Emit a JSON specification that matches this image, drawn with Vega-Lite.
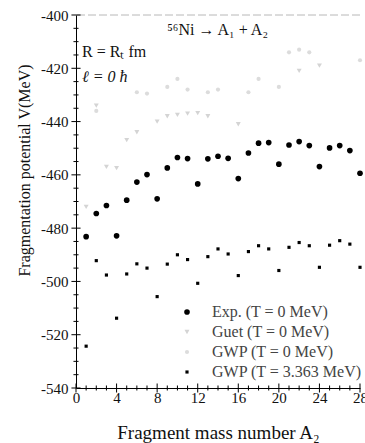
{
  "$schema": "https://vega.github.io/schema/vega-lite/v6.json",
  "width": 284,
  "height": 373,
  "autosize": {"type": "none"},
  "padding": {"left": 76, "top": 15, "right": 5, "bottom": 55},
  "background": "white",
  "config": {"view": {"stroke": null}, "font": "Liberation Serif"},
  "datasets": {
    "yMinor": [{"v": -535}, {"v": -530}, {"v": -525}, {"v": -515}, {"v": -510}, {"v": -505}, {"v": -495}, {"v": -490}, {"v": -485}, {"v": -475}, {"v": -470}, {"v": -465}, {"v": -455}, {"v": -450}, {"v": -445}, {"v": -435}, {"v": -430}, {"v": -425}, {"v": -415}, {"v": -410}, {"v": -405}],
    "yMajor": [{"v": -540}, {"v": -520}, {"v": -500}, {"v": -480}, {"v": -460}, {"v": -440}, {"v": -420}, {"v": -400}],
    "xMinor": [{"a": 1}, {"a": 2}, {"a": 3}, {"a": 5}, {"a": 6}, {"a": 7}, {"a": 9}, {"a": 10}, {"a": 11}, {"a": 13}, {"a": 14}, {"a": 15}, {"a": 17}, {"a": 18}, {"a": 19}, {"a": 21}, {"a": 22}, {"a": 23}, {"a": 25}, {"a": 26}, {"a": 27}],
    "xMajor": [{"a": 0}, {"a": 4}, {"a": 8}, {"a": 12}, {"a": 16}, {"a": 20}, {"a": 24}, {"a": 28}]
  },
  "layer": [
    {
      "data": {"values": [
        {"A": 1, "V": -483.2, "series": "Exp. (T = 0 MeV)"},
        {"A": 2, "V": -474.5, "series": "Exp. (T = 0 MeV)"},
        {"A": 3, "V": -471.5, "series": "Exp. (T = 0 MeV)"},
        {"A": 4, "V": -482.9, "series": "Exp. (T = 0 MeV)"},
        {"A": 5, "V": -469.5, "series": "Exp. (T = 0 MeV)"},
        {"A": 6, "V": -462.7, "series": "Exp. (T = 0 MeV)"},
        {"A": 7, "V": -459.9, "series": "Exp. (T = 0 MeV)"},
        {"A": 8, "V": -469.0, "series": "Exp. (T = 0 MeV)"},
        {"A": 9, "V": -457.4, "series": "Exp. (T = 0 MeV)"},
        {"A": 10, "V": -453.5, "series": "Exp. (T = 0 MeV)"},
        {"A": 11, "V": -453.9, "series": "Exp. (T = 0 MeV)"},
        {"A": 12, "V": -463.4, "series": "Exp. (T = 0 MeV)"},
        {"A": 13, "V": -454.0, "series": "Exp. (T = 0 MeV)"},
        {"A": 14, "V": -453.0, "series": "Exp. (T = 0 MeV)"},
        {"A": 15, "V": -453.8, "series": "Exp. (T = 0 MeV)"},
        {"A": 16, "V": -461.4, "series": "Exp. (T = 0 MeV)"},
        {"A": 17, "V": -451.8, "series": "Exp. (T = 0 MeV)"},
        {"A": 18, "V": -448.1, "series": "Exp. (T = 0 MeV)"},
        {"A": 19, "V": -447.9, "series": "Exp. (T = 0 MeV)"},
        {"A": 20, "V": -456.0, "series": "Exp. (T = 0 MeV)"},
        {"A": 21, "V": -448.8, "series": "Exp. (T = 0 MeV)"},
        {"A": 22, "V": -447.5, "series": "Exp. (T = 0 MeV)"},
        {"A": 23, "V": -449.0, "series": "Exp. (T = 0 MeV)"},
        {"A": 24, "V": -456.9, "series": "Exp. (T = 0 MeV)"},
        {"A": 25, "V": -449.9, "series": "Exp. (T = 0 MeV)"},
        {"A": 26, "V": -449.0, "series": "Exp. (T = 0 MeV)"},
        {"A": 27, "V": -450.9, "series": "Exp. (T = 0 MeV)"},
        {"A": 28, "V": -459.4, "series": "Exp. (T = 0 MeV)"},
        {"A": 1, "V": -472.0, "series": "Guet (T = 0 MeV)"},
        {"A": 2, "V": -434.0, "series": "Guet (T = 0 MeV)"},
        {"A": 3, "V": -457.0, "series": "Guet (T = 0 MeV)"},
        {"A": 4, "V": -457.5, "series": "Guet (T = 0 MeV)"},
        {"A": 5, "V": -447.0, "series": "Guet (T = 0 MeV)"},
        {"A": 6, "V": -444.0, "series": "Guet (T = 0 MeV)"},
        {"A": 8, "V": -440.0, "series": "Guet (T = 0 MeV)"},
        {"A": 9, "V": -438.0, "series": "Guet (T = 0 MeV)"},
        {"A": 10, "V": -437.5, "series": "Guet (T = 0 MeV)"},
        {"A": 11, "V": -437.0, "series": "Guet (T = 0 MeV)"},
        {"A": 12, "V": -436.8, "series": "Guet (T = 0 MeV)"},
        {"A": 13, "V": -438.0, "series": "Guet (T = 0 MeV)"},
        {"A": 16, "V": -441.0, "series": "Guet (T = 0 MeV)"},
        {"A": 22, "V": -421.0, "series": "Guet (T = 0 MeV)"},
        {"A": 24, "V": -419.0, "series": "Guet (T = 0 MeV)"},
        {"A": 2, "V": -436.0, "series": "GWP (T = 0 MeV)"},
        {"A": 6, "V": -429.0, "series": "GWP (T = 0 MeV)"},
        {"A": 7, "V": -429.5, "series": "GWP (T = 0 MeV)"},
        {"A": 9, "V": -427.0, "series": "GWP (T = 0 MeV)"},
        {"A": 10, "V": -424.0, "series": "GWP (T = 0 MeV)"},
        {"A": 11, "V": -428.0, "series": "GWP (T = 0 MeV)"},
        {"A": 13, "V": -429.0, "series": "GWP (T = 0 MeV)"},
        {"A": 14, "V": -428.0, "series": "GWP (T = 0 MeV)"},
        {"A": 17, "V": -429.0, "series": "GWP (T = 0 MeV)"},
        {"A": 18, "V": -424.0, "series": "GWP (T = 0 MeV)"},
        {"A": 20, "V": -427.0, "series": "GWP (T = 0 MeV)"},
        {"A": 21, "V": -414.0, "series": "GWP (T = 0 MeV)"},
        {"A": 22, "V": -413.0, "series": "GWP (T = 0 MeV)"},
        {"A": 23, "V": -414.0, "series": "GWP (T = 0 MeV)"},
        {"A": 28, "V": -417.0, "series": "GWP (T = 0 MeV)"},
        {"A": 1, "V": -524.3, "series": "GWP (T = 3.363 MeV)"},
        {"A": 2, "V": -492.2, "series": "GWP (T = 3.363 MeV)"},
        {"A": 3, "V": -497.6, "series": "GWP (T = 3.363 MeV)"},
        {"A": 4, "V": -513.8, "series": "GWP (T = 3.363 MeV)"},
        {"A": 5, "V": -497.2, "series": "GWP (T = 3.363 MeV)"},
        {"A": 6, "V": -493.4, "series": "GWP (T = 3.363 MeV)"},
        {"A": 7, "V": -495.0, "series": "GWP (T = 3.363 MeV)"},
        {"A": 8, "V": -505.7, "series": "GWP (T = 3.363 MeV)"},
        {"A": 9, "V": -493.5, "series": "GWP (T = 3.363 MeV)"},
        {"A": 10, "V": -490.0, "series": "GWP (T = 3.363 MeV)"},
        {"A": 11, "V": -491.8, "series": "GWP (T = 3.363 MeV)"},
        {"A": 12, "V": -500.7, "series": "GWP (T = 3.363 MeV)"},
        {"A": 13, "V": -490.7, "series": "GWP (T = 3.363 MeV)"},
        {"A": 14, "V": -487.8, "series": "GWP (T = 3.363 MeV)"},
        {"A": 15, "V": -489.7, "series": "GWP (T = 3.363 MeV)"},
        {"A": 16, "V": -497.8, "series": "GWP (T = 3.363 MeV)"},
        {"A": 17, "V": -488.8, "series": "GWP (T = 3.363 MeV)"},
        {"A": 18, "V": -486.6, "series": "GWP (T = 3.363 MeV)"},
        {"A": 19, "V": -487.8, "series": "GWP (T = 3.363 MeV)"},
        {"A": 20, "V": -495.9, "series": "GWP (T = 3.363 MeV)"},
        {"A": 21, "V": -487.2, "series": "GWP (T = 3.363 MeV)"},
        {"A": 22, "V": -485.4, "series": "GWP (T = 3.363 MeV)"},
        {"A": 23, "V": -486.6, "series": "GWP (T = 3.363 MeV)"},
        {"A": 24, "V": -494.7, "series": "GWP (T = 3.363 MeV)"},
        {"A": 25, "V": -486.4, "series": "GWP (T = 3.363 MeV)"},
        {"A": 26, "V": -484.7, "series": "GWP (T = 3.363 MeV)"},
        {"A": 27, "V": -486.0, "series": "GWP (T = 3.363 MeV)"},
        {"A": 28, "V": -494.7, "series": "GWP (T = 3.363 MeV)"}
      ]},
      "mark": {"type": "point", "filled": true, "opacity": 1, "strokeWidth": 0},
      "encoding": {
        "x": {
          "field": "A", "type": "quantitative",
          "scale": {"domain": [0, 28], "nice": false, "zero": false},
          "axis": {
            "values": [0, 4, 8, 12, 16, 20, 24, 28],
            "ticks": false,
            "grid": false, "domainColor": "#000000",
            "labelFont": "Liberation Serif", "labelFontSize": 15, "labelColor": "#111111",
            "labelPadding": 2, "labelFlush": false, "labelOverlap": false,
            "title": "Fragment mass number A₂",
            "titleFont": "Liberation Serif", "titleFontSize": 19, "titleFontWeight": "normal",
            "titleColor": "#111111", "titleY": 44, "titleBaseline": "middle"
          }
        },
        "y": {
          "field": "V", "type": "quantitative",
          "scale": {"domain": [-540, -400], "nice": false, "zero": false},
          "axis": {
            "values": [-540, -520, -500, -480, -460, -440, -420, -400],
            "labelExpr": "toString(datum.value)",
            "ticks": false,
            "grid": false, "domainColor": "#000000",
            "labelFont": "Liberation Serif", "labelFontSize": 15, "labelColor": "#111111",
            "labelPadding": 8, "labelOverlap": false,
            "title": "Fragmentation potential V(MeV)",
            "titleFont": "Liberation Serif", "titleFontSize": 16, "titleFontWeight": "normal",
            "titleColor": "#111111", "titleX": -52, "titleY": 155, "titleAngle": -90,
            "titleAlign": "center", "titleBaseline": "middle"
          }
        },
        "color": {
          "field": "series", "type": "nominal",
          "scale": {
            "domain": ["Exp. (T = 0 MeV)", "Guet (T = 0 MeV)", "GWP (T = 0 MeV)", "GWP (T = 3.363 MeV)"],
            "range": ["#000000", "#d4d4d4", "#dcdcdc", "#000000"]
          },
          "legend": {
            "orient": "none", "legendX": 103, "legendY": 289, "title": null,
            "labelFont": "Liberation Serif", "labelFontSize": 16, "labelColor": "#444444",
            "labelOffset": 17, "rowPadding": 4, "padding": 0, "symbolStrokeWidth": 0
          }
        },
        "shape": {
          "field": "series", "type": "nominal",
          "scale": {
            "domain": ["Exp. (T = 0 MeV)", "Guet (T = 0 MeV)", "GWP (T = 0 MeV)", "GWP (T = 3.363 MeV)"],
            "range": ["circle", "triangle-down", "circle", "square"]
          }
        },
        "size": {
          "field": "series", "type": "nominal",
          "scale": {
            "domain": ["Exp. (T = 0 MeV)", "Guet (T = 0 MeV)", "GWP (T = 0 MeV)", "GWP (T = 3.363 MeV)"],
            "range": [32, 10, 8, 26]
          }
        }
      }
    },
    {
      "data": {"values": [{}]},
      "mark": {"type": "rule", "color": "#9a9a9a", "strokeDash": [8, 3], "strokeWidth": 1, "opacity": 0.7},
      "encoding": {"y": {"datum": -400, "type": "quantitative", "scale": {"domain": [-540, -400], "nice": false, "zero": false}}}
    },
    {
      "data": {"name": "yMinor"},
      "mark": {"type": "rule", "color": "#000000", "strokeWidth": 1},
      "encoding": {
        "x": {"datum": -0.25, "type": "quantitative", "scale": {"domain": [0, 28], "nice": false, "zero": false}},
        "x2": {"datum": 0.25},
        "y": {"field": "v", "type": "quantitative", "scale": {"domain": [-540, -400], "nice": false, "zero": false}}
      }
    },
    {
      "data": {"name": "yMajor"},
      "mark": {"type": "rule", "color": "#000000", "strokeWidth": 1},
      "encoding": {
        "x": {"datum": -0.45, "type": "quantitative", "scale": {"domain": [0, 28], "nice": false, "zero": false}},
        "x2": {"datum": 0.45},
        "y": {"field": "v", "type": "quantitative", "scale": {"domain": [-540, -400], "nice": false, "zero": false}}
      }
    },
    {
      "data": {"name": "xMinor"},
      "mark": {"type": "tick", "orient": "vertical", "size": 5, "thickness": 1, "color": "#000000", "opacity": 1},
      "encoding": {
        "x": {"field": "a", "type": "quantitative", "scale": {"domain": [0, 28], "nice": false, "zero": false}},
        "y": {"datum": -540, "type": "quantitative", "scale": {"domain": [-540, -400], "nice": false, "zero": false}}
      }
    },
    {
      "data": {"name": "xMajor"},
      "mark": {"type": "tick", "orient": "vertical", "size": 9, "thickness": 1, "color": "#000000", "opacity": 1},
      "encoding": {
        "x": {"field": "a", "type": "quantitative", "scale": {"domain": [0, 28], "nice": false, "zero": false}},
        "y": {"datum": -540, "type": "quantitative", "scale": {"domain": [-540, -400], "nice": false, "zero": false}}
      }
    },
    {
      "data": {"values": [{}]},
      "mark": {"type": "text", "font": "Liberation Serif", "fontSize": 16, "align": "left", "baseline": "middle", "color": "#111111"},
      "encoding": {
        "x": {"datum": 9.0, "type": "quantitative", "scale": {"domain": [0, 28], "nice": false, "zero": false}},
        "y": {"datum": -405.6, "type": "quantitative", "scale": {"domain": [-540, -400], "nice": false, "zero": false}},
        "text": {"value": "⁵⁶Ni → A₁ + A₂"}
      }
    },
    {
      "data": {"values": [{}]},
      "mark": {"type": "text", "font": "Liberation Serif", "fontSize": 16, "align": "left", "baseline": "middle", "color": "#111111"},
      "encoding": {
        "x": {"datum": 0.6, "type": "quantitative", "scale": {"domain": [0, 28], "nice": false, "zero": false}},
        "y": {"datum": -413.9, "type": "quantitative", "scale": {"domain": [-540, -400], "nice": false, "zero": false}},
        "text": {"value": "R = Rₜ fm"}
      }
    },
    {
      "data": {"values": [{}]},
      "mark": {"type": "text", "font": "Liberation Serif", "fontSize": 16, "fontStyle": "italic", "align": "left", "baseline": "middle", "color": "#111111"},
      "encoding": {
        "x": {"datum": 0.6, "type": "quantitative", "scale": {"domain": [0, 28], "nice": false, "zero": false}},
        "y": {"datum": -423.3, "type": "quantitative", "scale": {"domain": [-540, -400], "nice": false, "zero": false}},
        "text": {"value": "ℓ = 0 ħ"}
      }
    }
  ]
}
